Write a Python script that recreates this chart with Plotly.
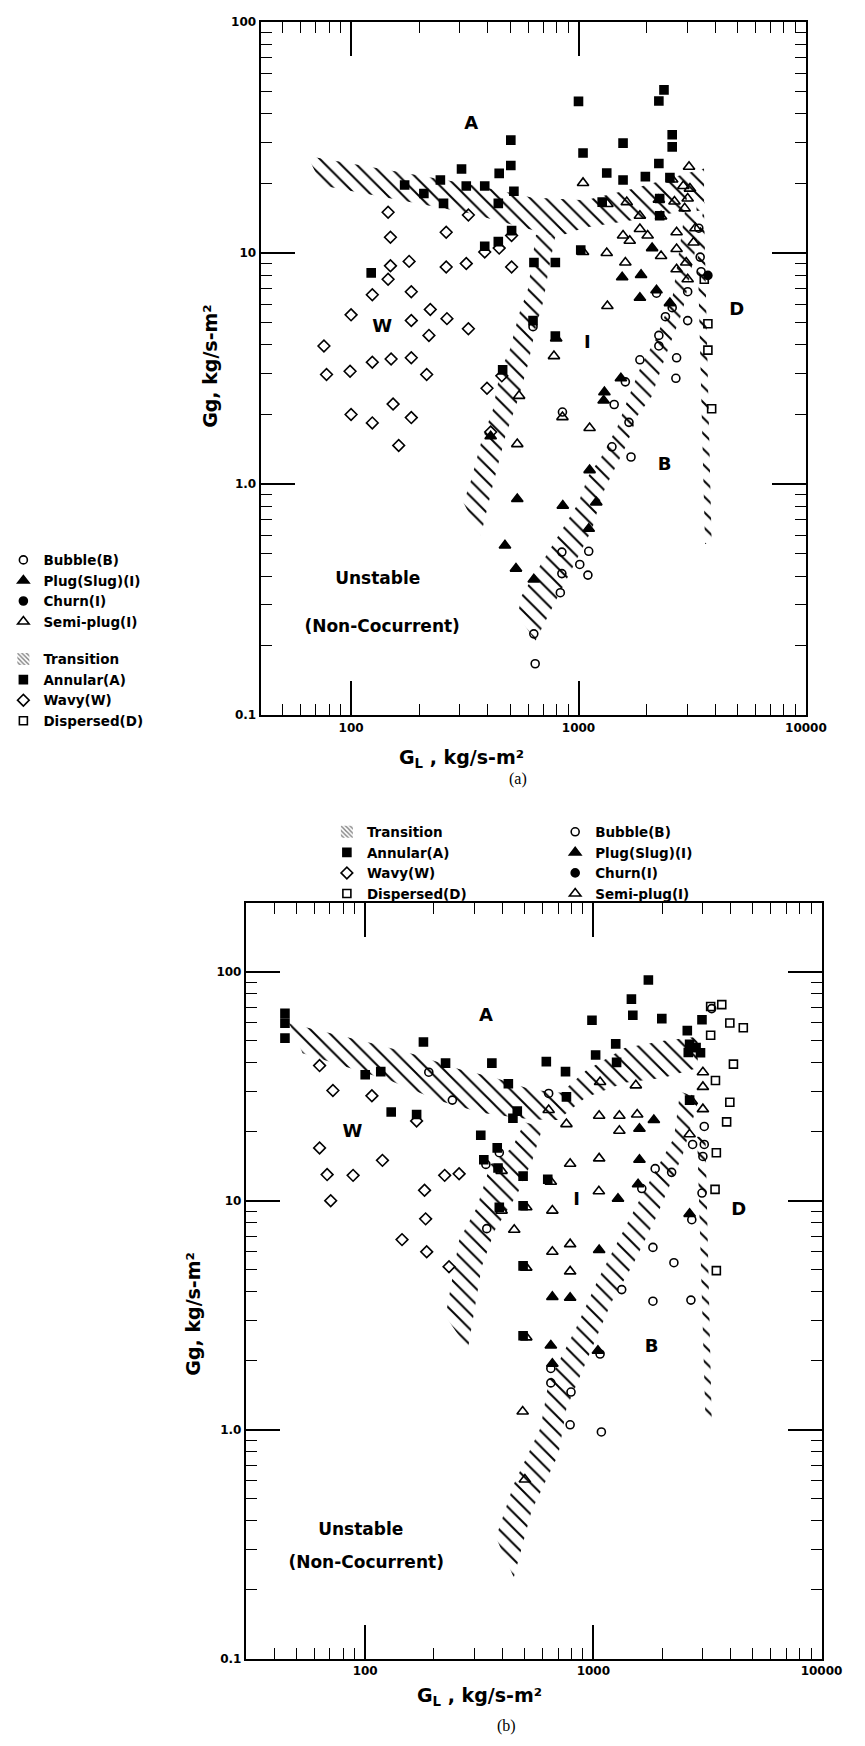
import plotly.graph_objects as go

FONT = "DejaVu Sans"

# ---------------- panel (a): data ----------------
a_bubble_gl = [3380, 3428, 3460, 3020, 2582, 2411, 3020, 2256, 2256, 2700, 2680, 1862, 1607, 2203, 631,
               1435, 1667, 1403, 1702, 845, 845, 832, 1013, 1109, 1100, 636, 645, 850]
a_bubble_gg = [12.8, 9.6, 8.3, 6.8, 5.8, 5.3, 5.1, 4.4, 3.96, 3.52, 2.87, 3.45, 2.77, 6.7, 4.8,
               2.21, 1.85, 1.45, 1.31, 0.508, 0.41, 0.339, 0.449, 0.512, 0.404, 0.225, 0.167, 2.05]

a_plug_gl = [2107, 1556, 1884, 1862, 2203, 2523, 1536, 1300, 1290, 411, 1119, 538, 853, 1197, 1109, 475, 531, 636]
a_plug_gg = [10.5, 7.85, 8.04, 6.4, 6.9, 6.07, 2.87, 2.5, 2.3, 1.61, 1.15, 0.862, 0.807, 0.834, 0.641, 0.543, 0.431, 0.387]

a_churn_gl = [3706]
a_churn_gg = [8.0]

a_semi_gl = [3062, 1047, 2582, 2890, 3090, 1340, 1630, 2256, 2642, 3020, 2930, 1862, 2307, 1570, 1862, 1680,
             2014, 2700, 3266, 3206, 1047, 1331, 2307, 2700, 1607, 2700, 2976, 3020, 1340, 798, 780, 548, 538, 1119, 850]
a_semi_gg = [23.6, 20.1, 20.8, 19.5, 19.0, 16.3, 16.6, 17.0, 16.7, 17.2, 15.6, 14.5, 14.4, 11.9, 12.7, 11.3,
             11.9, 12.3, 12.8, 11.1, 10.1, 10.0, 9.7, 10.4, 9.1, 8.5, 9.1, 7.7, 5.9, 4.27, 3.58, 2.41, 1.49, 1.75, 1.95]

a_annular_gl = [1000, 2256, 2376, 504, 1047, 1570, 2582, 2582, 306, 504, 448, 2256, 172, 247, 321, 387, 1968, 1570,
                1331, 2523, 520, 209, 255, 444, 1271, 2275, 2275, 508, 444, 387, 1023, 637, 791, 122.6, 631, 791, 464]
a_annular_gg = [45.3, 45.5, 50.8, 30.8, 27.1, 29.9, 32.5, 28.8, 23.1, 23.9, 22.1, 24.4, 19.7, 20.7, 19.5, 19.5, 21.4, 20.7,
                22.2, 21.2, 18.5, 18.1, 16.4, 16.4, 16.6, 17.2, 14.5, 12.5, 11.2, 10.7, 10.3, 9.1, 9.1, 8.2, 5.1, 4.37, 3.12]

a_wavy_gl = [145.5, 328, 149, 262, 508, 387, 448, 180, 149, 262, 321, 508, 145.5, 124, 184, 100, 223, 184, 264, 328,
             220, 76, 99, 78, 124, 150, 184, 215, 396, 460, 100, 124, 153, 184, 162, 411]
a_wavy_gg = [15.0, 14.6, 11.7, 12.3, 11.9, 10.1, 10.5, 9.2, 8.8, 8.7, 9.0, 8.7, 7.7, 6.6, 6.8, 5.4, 5.7, 5.1, 5.2, 4.7,
             4.4, 3.96, 3.08, 2.98, 3.37, 3.48, 3.52, 2.98, 2.6, 2.94, 2.0, 1.84, 2.22, 1.94, 1.47, 1.68]

a_dispersed_gl = [3573, 3706, 3706, 3850]
a_dispersed_gg = [7.7, 4.94, 3.8, 2.12]

# transition bands (closed outlines, separated by None)
a_trans_gl = [64.3, 149, 327, 622, 1070, 1753, 2600, 3565, 3565, 2600, 1753, 1070, 796, 622, 327, 149, 74.5, None,
              650, 600, 547, 500, 453, 420, 372, 337, 312, 372, 419, 477, 547, 600, 650, 700, 740, 790, None,
              3000, 2600, 2200, 1897, 1637, 1483, 1265, 1102, 1000, 563, 540, 647, 1148, 1265, 1343, 1637, 1807,
              2094, 2430, 2870, 3600, None,
              3300, 3560, 3850, 3600]
a_trans_gg = [26.3, 22.7, 19.9, 17.4, 16.9, 19.0, 21.2, 23.2, 15.3, 14.9, 13.9, 12.9, 11.7, 12.6, 14.9, 17.2, 19.6, None,
              12.0, 7.0, 5.42, 3.84, 3.08, 2.1, 1.5, 1.04, 0.83, 0.6, 0.98, 1.61, 2.39, 3.3, 4.8, 6.17, 8.5, 11.8, None,
              17.5, 6.6, 4.3, 3.3, 2.29, 1.77, 1.32, 1.08, 0.83, 0.33, 0.27, 0.21, 0.64, 0.89, 1.01, 1.5, 1.96,
              2.39, 3.65, 5.6, 16.5, None,
              16, 16, 0.55, 0.55]

a_region_text = ["A", "W", "I", "D", "B"]
a_region_gl = [338, 137, 1094, 4966, 2389]
a_region_gg = [35.9, 4.74, 4.05, 5.65, 1.2]
a_note_text = ["Unstable", "(Non-Cocurrent)"]
a_note_gl = [131, 137]
a_note_gg = [0.384, 0.238]

# ---------------- panel (b): data ----------------
b_bubble_gl = [190, 241, 637, 338, 387, 1866, 2203, 1630, 2993, 2700, 341, 1824, 2254, 1331, 1824, 2676, 1070,
               651, 651, 798, 791, 1084, 2722, 3062, 3020, 3062, 3300]
b_bubble_gg = [36.4, 27.5, 29.4, 14.4, 16.2, 13.8, 13.3, 11.3, 10.8, 8.26, 7.55, 6.25, 5.36, 4.09, 3.64, 3.68, 2.14,
               1.85, 1.60, 1.46, 1.05, 0.977, 17.6, 17.6, 15.6, 21.1, 69]

b_plug_gl = [1841, 1592, 1592, 1570, 1282, 2641, 1060, 661, 791, 651, 1047, 661]
b_plug_gg = [22.5, 20.6, 15.1, 11.8, 10.2, 8.76, 6.09, 3.80, 3.77, 2.33, 2.21, 1.94]

b_churn_gl = [None]
b_churn_gg = [None]

b_semi_gl = [1070, 1535, 3020, 637, 762, 1060, 1300, 1556, 1300, 3020, 2641, 396, 791, 1060, 651, 1057, 396, 508,
             661, 450, 791, 661, 508, 791, 508, 490, 501, 3020, 2700]
b_semi_gg = [33.0, 31.9, 31.4, 24.9, 21.6, 23.5, 23.5, 23.8, 20.2, 25.1, 19.5, 13.5, 14.5, 15.3, 12.1, 11.0, 9.05, 9.36,
             9.05, 7.47, 6.46, 5.98, 5.10, 4.91, 2.53, 1.2, 0.606, 36.4, 27.2]

b_annular_gl = [44.5, 44.5, 44.5, 1742, 1468, 1489, 986, 1995, 2992, 2580, 1253, 180, 2641, 2819, 2948, 225, 359, 622,
                1023, 1264, 755, 100, 117, 424, 762, 130, 168, 464, 444, 321, 379, 331, 382, 492, 631, 387, 492, 492,
                492, 2606, 2641]
b_annular_gg = [65.8, 59.6, 51.3, 92.0, 75.9, 64.5, 61.4, 62.4, 61.7, 55.3, 48.4, 49.3, 48.2, 46.6, 44.3, 39.9, 39.9, 40.5,
                43.3, 40.2, 36.6, 35.5, 36.6, 32.4, 28.4, 24.4, 23.8, 24.6, 22.9, 19.3, 17.0, 15.1, 13.9, 12.8, 12.4, 9.36,
                9.51, 5.19, 2.57, 44.4, 27.5]

b_wavy_gl = [63.1, 72.2, 107, 168, 63.1, 119, 68.1, 88.5, 223, 258, 70.6, 182, 184, 145, 186, 233]
b_wavy_gg = [38.9, 30.3, 28.7, 22.3, 17.0, 15.0, 13.0, 12.9, 12.9, 13.1, 10.0, 11.1, 8.33, 6.76, 5.98, 5.15]

b_dispersed_gl = [4110, 3428, 3963, 3837, 3459, 3414, 3459, 3266, 3653, 3266, 3963, 4540]
b_dispersed_gg = [39.5, 33.5, 26.9, 22.1, 16.2, 11.2, 4.95, 70.5, 71.8, 52.8, 59.7, 56.9]

b_trans_gl = [46.4, 106, 168, 257, 370, 538, 723, 925, 1371, 2032, 2866, 2866, 2032, 1371, 925, 700, 538, 323, 211, 129,
              53.2, None,
              500, 440, 354, 309, 258, 225, 282, 324, 370, 464, 540, 600, None,
              2400, 2254, 1644, 1312, 1047, 836, 637, 587, 448, 374, 448, 536, 703, 762, 955, 1197, 1501, 1884, 2466,
              2900, None,
              2850, 3100, 3300, 3100]
b_trans_gg = [59.6, 48.8, 43.3, 37.6, 34.4, 30.5, 29.6, 36.9, 46.4, 50, 52, 38, 34.4, 32.7, 28.2, 22.5, 22.6, 24.2, 27.3,
              33.4, 44.1, None,
              22, 17, 14.4, 9.36, 6.72, 3.13, 2.25, 5.15, 7.43, 10.7, 15, 21, None,
              30, 18.8, 10.7, 6.95, 4.52, 2.75, 1.62, 1.02, 0.577, 0.338, 0.226, 0.442, 0.78, 1.24, 2.11, 3.58, 5.33,
              8.47, 15.9, 28, None,
              19, 19, 1.1, 1.1]

b_region_text = ["A", "W", "I", "D", "B"]
b_region_gl = [338, 88, 845, 4335, 1799]
b_region_gg = [63.8, 19.9, 10.0, 9.05, 2.29]
b_note_text = ["Unstable", "(Non-Cocurrent)"]
b_note_gl = [95.6, 101]
b_note_gg = [0.361, 0.259]

x_tickvals = [100, 1000, 10000]
x_ticktext = ["100", "1000", "10000"]
y_tickvals = [0.1, 1, 10, 100]
y_ticktext = ["0.1", "1.0", "10", "100"]

# ---------------- figure ----------------
fig = go.Figure()

STYLES = {
    "Bubble(B)": dict(symbol="circle-open", size=8),
    "Plug(Slug)(I)": dict(symbol="triangle-up", size=10),
    "Churn(I)": dict(symbol="circle", size=8),
    "Semi-plug(I)": dict(symbol="triangle-up-open", size=10),
    "Annular(A)": dict(symbol="square", size=8),
    "Wavy(W)": dict(symbol="diamond-open", size=9),
    "Dispersed(D)": dict(symbol="square-open", size=8),
}

HATCH = dict(shape="\\", fgcolor="black", fgopacity=1, size=11, solidity=0.18)


def add_points(gl, gg, name, xa, ya, legend, group):
    st = STYLES[name]
    fig.add_trace(go.Scatter(
        x=gl, y=gg, mode="markers", name=name, xaxis=xa, yaxis=ya,
        legend=legend, legendgroup=group,
        marker=dict(symbol=st["symbol"], size=st["size"], color="black",
                    line=dict(color="black", width=1.6)),
    ))


def add_transition_zone(gl, gg, xa, ya):
    # hatched transition zones
    fig.add_trace(go.Scatter(
        x=gl, y=gg, mode="lines", fill="toself", name="Transition", xaxis=xa, yaxis=ya,
        line=dict(width=0, color="rgba(0,0,0,0)"), fillcolor="rgba(0,0,0,0)",
        fillpattern=dict(HATCH, bgcolor="rgba(0,0,0,0)"),
        showlegend=False, hoverinfo="skip",
    ))


def add_transition_key(xa, ya, legend, group):
    # legend swatch for the hatching
    fig.add_trace(go.Bar(
        x=[None], y=[None], name="Transition", xaxis=xa, yaxis=ya, legend=legend, legendgroup=group,
        marker=dict(color="white", line=dict(width=0),
                    pattern=dict(shape="\\", fgcolor="black", bgcolor="white", size=4, solidity=0.45)),
    ))


def add_text(gl, gg, txt, xa, ya, size):
    fig.add_trace(go.Scatter(
        x=gl, y=gg, mode="text", text=txt, xaxis=xa, yaxis=ya, showlegend=False,
        textfont=dict(family=FONT, size=size, color="black", weight="bold"), hoverinfo="skip",
    ))


# panel (a)
add_transition_zone(a_trans_gl, a_trans_gg, "x", "y")
add_points(a_bubble_gl, a_bubble_gg, "Bubble(B)", "x", "y", "legend", "g1")
add_points(a_plug_gl, a_plug_gg, "Plug(Slug)(I)", "x", "y", "legend", "g1")
add_points(a_churn_gl, a_churn_gg, "Churn(I)", "x", "y", "legend", "g1")
add_points(a_semi_gl, a_semi_gg, "Semi-plug(I)", "x", "y", "legend", "g1")
add_transition_key("x", "y", "legend", "g2")
add_points(a_annular_gl, a_annular_gg, "Annular(A)", "x", "y", "legend", "g2")
add_points(a_wavy_gl, a_wavy_gg, "Wavy(W)", "x", "y", "legend", "g2")
add_points(a_dispersed_gl, a_dispersed_gg, "Dispersed(D)", "x", "y", "legend", "g2")
add_text(a_region_gl, a_region_gg, a_region_text, "x", "y", 18)
add_text(a_note_gl, a_note_gg, a_note_text, "x", "y", 17)

# panel (b)
add_transition_zone(b_trans_gl, b_trans_gg, "x2", "y2")
add_transition_key("x2", "y2", "legend2", "h2")
add_points(b_annular_gl, b_annular_gg, "Annular(A)", "x2", "y2", "legend2", "h2")
add_points(b_wavy_gl, b_wavy_gg, "Wavy(W)", "x2", "y2", "legend2", "h2")
add_points(b_dispersed_gl, b_dispersed_gg, "Dispersed(D)", "x2", "y2", "legend2", "h2")
add_points(b_bubble_gl, b_bubble_gg, "Bubble(B)", "x2", "y2", "legend3", "h1")
add_points(b_plug_gl, b_plug_gg, "Plug(Slug)(I)", "x2", "y2", "legend3", "h1")
add_points(b_churn_gl, b_churn_gg, "Churn(I)", "x2", "y2", "legend3", "h1")
add_points(b_semi_gl, b_semi_gg, "Semi-plug(I)", "x2", "y2", "legend3", "h1")
add_text(b_region_gl, b_region_gg, b_region_text, "x2", "y2", 18)
add_text(b_note_gl, b_note_gg, b_note_text, "x2", "y2", 17)

tickfont = dict(family=FONT, size=12, color="black", weight="bold")
minor = dict(ticks="inside", ticklen=11, tickwidth=1.4, tickcolor="black", dtick="D1", showgrid=False)
axis_common = dict(type="log", showline=True, linecolor="black", linewidth=2, mirror="ticks",
                   ticks="inside", ticklen=34, tickwidth=1.6, tickcolor="black", showgrid=False,
                   zeroline=False, tickfont=tickfont, minor=minor, fixedrange=True)

legend_font = dict(family=FONT, size=13.5, color="black", weight="bold")

fig.update_layout(
    width=865, height=1746,
    margin=dict(l=0, r=0, t=0, b=0),
    paper_bgcolor="white", plot_bgcolor="white",
    showlegend=True,
    xaxis=dict(axis_common, domain=[0.3087, 0.9549], range=[1.602, 4.0], anchor="y",
               tickmode="array", tickvals=x_tickvals, ticktext=x_ticktext),
    yaxis=dict(axis_common, domain=[0.5911, 0.9914], range=[-1, 2], anchor="x",
               tickmode="array", tickvals=y_tickvals, ticktext=y_ticktext),
    xaxis2=dict(axis_common, domain=[0.2913, 0.9734], range=[1.477, 4.0], anchor="y2",
                tickmode="array", tickvals=x_tickvals, ticktext=x_ticktext),
    yaxis2=dict(axis_common, domain=[0.0464, 0.4828], range=[-1, 2.301], anchor="x2",
                tickmode="array", tickvals=y_tickvals, ticktext=y_ticktext),
    legend=dict(x=0.004, y=0.6896, xanchor="left", yanchor="top", traceorder="grouped",
                tracegroupgap=17, bgcolor="rgba(0,0,0,0)", font=legend_font),
    legend2=dict(x=0.3873, y=0.5326, xanchor="left", yanchor="top", traceorder="grouped",
                 bgcolor="rgba(0,0,0,0)", font=legend_font),
    legend3=dict(x=0.6578, y=0.5326, xanchor="left", yanchor="top", traceorder="grouped",
                 bgcolor="rgba(0,0,0,0)", font=legend_font),
)

title_font = dict(family=FONT, size=19, color="black", weight="bold")
caption_font = dict(family="Liberation Serif", size=16, color="black")
annotations = [
    dict(text="G<sub>L</sub> , kg/s-m²", x=0.547, y=0.5659, font=title_font),
    dict(text="(a)", x=0.614, y=0.5544, font=caption_font),
    dict(text="Gg, kg/s-m²", x=0.2486, y=0.7927, font=title_font, textangle=-90),
    dict(text="G<sub>L</sub> , kg/s-m²", x=0.5676, y=0.0246, font=title_font),
    dict(text="(b)", x=0.6, y=0.0074, font=caption_font),
    dict(text="Gg, kg/s-m²", x=0.2289, y=0.2457, font=title_font, textangle=-90),
]
for ann in annotations:
    fig.add_annotation(xref="paper", yref="paper", showarrow=False, xanchor="center", yanchor="middle", **ann)

fig.write_html("out.html")
